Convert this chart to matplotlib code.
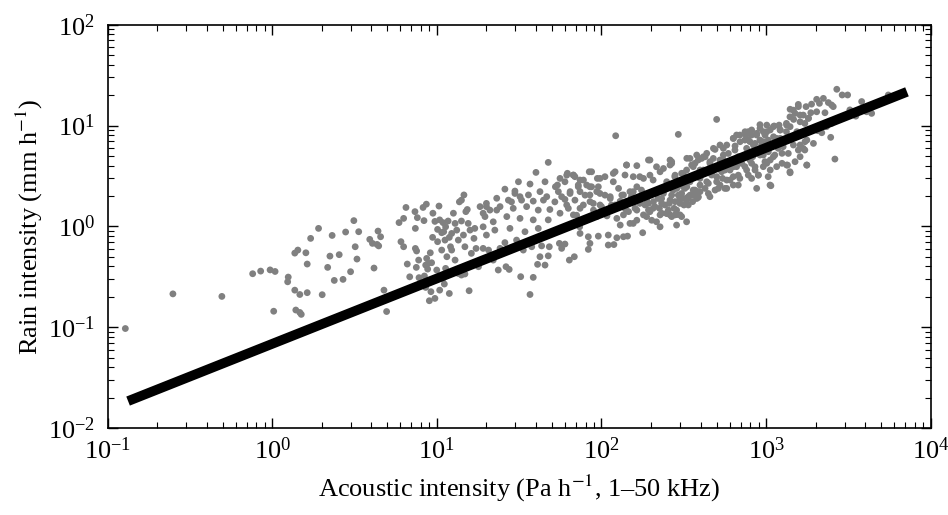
import numpy as np
import matplotlib
matplotlib.use("Agg")
import matplotlib.pyplot as plt

plt.rcParams["font.family"] = ["Liberation Serif", "DejaVu Serif"]
plt.rcParams["mathtext.fontset"] = "stix"

# acoustic intensity (Pa h^-1) and rain intensity (mm h^-1)
# sparse low end
acoustic_low = [0.128, 0.249, 0.494, 0.76, 0.85, 0.97, 1.04, 1.02, 1.25, 1.24, 1.37, 1.39,
                1.37, 1.43, 1.47, 1.50, 1.47]
rain_low = [0.097, 0.214, 0.202, 0.339, 0.36, 0.37, 0.357, 0.144, 0.314, 0.282, 0.233, 0.148,
            0.543, 0.582, 0.14, 0.134, 0.211]

# 1.5 - 18
acoustic_mid = [1.60, 1.63, 1.71, 1.91, 1.63, 2.01, 2.17, 2.24, 2.31, 2.38, 2.69, 2.55,
                2.79, 2.99, 3.13, 3.19, 3.27, 3.35, 3.91, 4.06, 4.15, 4.33, 4.43, 4.39,
                4.55, 4.77, 4.95, 5.89, 6.05, 6.28, 6.28, 6.49, 6.61, 6.84, 7.36, 7.40,
                7.40, 7.53, 7.50, 7.61, 7.79, 7.75, 8.35, 8.24, 8.63, 8.55, 8.40, 8.67,
                8.79, 8.87, 9.12, 9.29, 9.16, 8.55, 9.00, 9.20, 9.73, 9.42, 9.46, 9.73,
                10.1, 10.3, 10.1, 10.4, 10.7, 10.9, 11.0, 11.2, 11.3, 11.3, 11.7, 11.9,
                12.1, 12.3, 12.6, 12.9, 13.2, 13.5, 13.7, 14.1, 14.6, 14.1, 15.0, 15.3,
                14.5, 14.8, 15.5, 15.9, 16.2, 16.8, 17.0, 17.3, 17.9, 11.9, 11.1, 10.4,
                15.7, 14.1, 14.8, 13.5, 11.5, 12.3, 12.9, 10.7, 9.98, 10.9]
rain_mid = [0.547, 0.423, 0.76, 0.955, 0.22, 0.21, 0.392, 0.507, 0.813, 0.291, 0.298, 0.524,
            0.879, 0.355, 1.14, 0.628, 0.474, 0.885, 0.743, 0.678, 0.386, 0.662, 0.64, 0.898,
            0.789, 0.233, 0.143, 1.09, 0.705, 1.20, 0.628, 1.54, 0.423, 0.316, 1.40, 0.955,
            0.604, 0.57, 0.392, 1.22, 0.31, 0.463, 1.14, 1.54, 1.66, 0.413, 0.322, 0.481,
            0.377, 0.43, 0.547, 0.436, 0.282, 0.248, 0.183, 0.225, 0.193, 0.778, 1.35, 1.12,
            0.933, 1.59, 0.705, 1.16, 0.865, 1.09, 0.885, 0.731, 0.383, 0.99, 1.13, 0.778,
            0.628, 0.851, 1.35, 1.07, 0.918, 0.731, 1.75, 1.82, 2.05, 1.13, 1.40, 1.47,
            0.82, 0.628, 1.07, 0.918, 0.54, 0.76, 0.955, 0.604, 0.398, 0.216, 0.268, 0.233,
            0.23, 0.329, 0.337, 0.341, 0.50, 0.582, 0.463, 0.582, 0.369, 0.305]

# 18 - 400
acoustic_core = [122, 293, 47.5, 40.0, 31.3, 25.9, 29.8, 36.8, 32.3, 38.5, 23.6, 26.3,
                 27.5, 18.3, 22.0, 19.1, 20.6, 42.3, 40.9, 45.4, 47.5, 48.2, 43.3, 63.8,
                 68.4, 57.3, 60.0, 83.2, 85.1, 83.2, 95.7, 110, 110, 119, 124, 136,
                 144, 178, 227, 74.1, 73.7, 64.4, 55.5, 54.0, 49.8, 37.7, 33.5, 30.5,
                 25.9, 24.2, 20.0, 19.1, 22.5, 27.8, 34.3, 41.3, 47.5, 38.5, 32.0, 26.6,
                 22.0, 19.6, 20.0, 23.1, 29.1, 35.1, 41.3, 48.6, 56.0, 62.9, 70.6, 81.3,
                 93.5, 108, 124, 130, 156, 188, 216, 164, 142, 206, 249, 286,
                 329, 361, 300, 261, 232, 193, 171, 149, 130, 115, 100, 89.2,
                 77.6, 69.0, 60.0, 52.1, 44.4, 38.5, 32.7, 28.4, 24.2, 21.0, 19.1, 29.8,
                 36.0, 42.3, 46.5, 54.7, 64.4, 74.1, 85.1, 97.9, 113, 136, 156, 180,
                 206, 238, 273, 314, 345, 387, 370, 345, 314, 279, 249, 267,
                 261, 197, 227, 206, 180, 156, 164, 142, 139, 121, 118, 105,
                 94.4, 95.7, 84.3, 74.1, 67.5, 62.1, 56.0, 54.0, 52.5, 45.4, 36.8, 32.0,
                 27.2, 23.1, 20.0, 18.3, 72.3, 85.1, 232, 307, 286, 329, 267]
rain_core = [7.92, 8.17, 4.31, 3.43, 2.77, 2.34, 2.24, 0.211, 0.317, 0.312, 0.369, 0.398,
             0.374, 0.445, 0.463, 0.605, 0.582, 0.50, 0.42, 0.413, 0.51, 0.628, 0.64, 0.463,
             0.50, 0.605, 0.668, 0.591, 0.678, 0.789, 0.80, 0.653, 0.82, 0.66, 0.771, 0.789,
             0.80, 0.865, 0.99, 0.851, 0.99, 1.03, 0.678, 0.918, 0.851, 0.628, 0.582, 0.731,
             0.69, 0.605, 0.82, 0.99, 0.918, 0.955, 0.885, 0.955, 1.16, 1.16, 1.20, 1.25,
             1.11, 1.25, 1.57, 1.45, 1.51, 1.57, 1.45, 1.47, 1.35, 1.51, 1.29, 1.16,
             1.25, 1.27, 1.20, 1.03, 1.07, 1.25, 1.11, 1.45, 1.43, 1.51, 1.35, 1.45,
             1.90, 2.12, 1.69, 1.82, 1.69, 1.69, 1.82, 1.75, 1.77, 1.63, 1.57, 1.69,
             1.63, 1.82, 1.85, 1.75, 1.82, 1.78, 1.82, 1.75, 1.57, 1.45, 1.35, 2.12,
             2.05, 2.21, 1.97, 2.21, 2.12, 2.21, 2.05, 2.12, 1.97, 2.05, 2.21, 2.12,
             2.21, 2.12, 2.29, 2.47, 2.77, 3.11, 4.22, 4.72, 3.36, 3.11, 2.77, 4.38,
             4.06, 4.55, 3.48, 2.88, 2.99, 3.11, 2.47, 4.06, 3.23, 3.48, 2.77, 3.11,
             2.99, 2.47, 3.48, 2.88, 3.23, 3.36, 2.99, 2.57, 2.47, 2.77, 2.63, 1.97,
             1.82, 1.90, 1.69, 1.57, 2.57, 2.47, 1.35, 1.25, 1.03, 1.11, 1.25]

# dense band 55 - 1800
acoustic_band = [133, 142, 149, 160, 168, 175, 184, 190, 197, 207, 216, 225,
                 232, 240, 249, 258, 267, 276, 287, 297, 307, 317, 330, 345,
                 358, 370, 387, 180, 202, 227, 261, 287, 164, 149, 136, 121,
                 113, 127, 98, 105, 89.4, 85.2, 74.1, 67.5, 61.5, 57.3, 64.5, 72.3,
                 79.5, 93.6, 81.3, 60.0, 67.5, 77.7, 87.1,
                 61.5, 69.0, 87.1, 98, 118, 142, 164, 171, 193, 197, 216, 238,
                 261, 267, 280, 330, 353, 379, 416, 397, 456, 479, 501, 550,
                 577, 590, 633, 695, 647, 745, 780, 838, 919, 877, 962, 1010,
                 1107, 1217, 1334, 1397, 1466, 1571, 1683, 1808,
                 397, 436, 467, 501, 525, 563, 604, 633, 678, 712, 762, 798,
                 857, 898, 919, 985, 1033, 1107, 1186, 1274, 1365, 1466, 1571, 1723,
                 1334, 1397, 1767, 1057, 490, 577, 337, 379, 300, 280,
                 139, 152, 171, 188, 211, 221, 243, 255, 280, 293, 314, 337,
                 362, 397, 426, 446, 160, 193, 146, 130,
                 525, 662, 762, 817, 1010, 1159]
rain_band = [2.04, 1.76, 2.21, 1.51, 1.89, 2.29, 1.63, 2.04, 1.40, 1.76, 2.12, 1.51,
             1.89, 2.29, 1.34, 1.69, 2.04, 1.51, 2.38, 1.82, 2.12, 1.63, 2.47, 2.04,
             1.76, 2.29, 1.97, 1.30, 1.15, 1.30, 1.30, 1.31, 1.15, 1.07, 1.30, 1.63,
             1.89, 2.38, 1.63, 2.04, 1.45, 1.76, 1.51, 1.30, 1.63, 1.97, 2.21, 2.47,
             2.04, 2.21, 2.57, 2.77, 3.22, 2.88, 2.47,
             3.22, 3.11, 3.48, 2.99, 3.35, 4.06, 4.00, 3.11, 4.55, 3.22, 3.90, 3.75,
             4.55, 4.21, 3.22, 4.73, 4.06, 5.10, 4.90, 3.62, 4.38, 5.94, 3.90, 4.55,
             6.41, 5.29, 7.46, 6.91, 5.71, 8.68, 7.19, 6.41, 9.37, 8.05, 6.91, 8.68,
             9.74, 9.03, 10.1, 12.2, 14.2, 15.4, 12.7, 11.8,
             2.99, 2.77, 3.35, 3.11, 2.57, 3.62, 2.88, 3.90, 3.22, 4.21, 3.62, 4.55,
             3.90, 3.22, 5.10, 4.38, 5.50, 4.90, 5.94, 6.91, 5.29, 6.41, 5.71, 6.91,
             4.06, 3.48, 4.06, 2.57, 2.29, 2.38, 1.89, 1.89, 1.30, 1.30,
             1.51, 1.97, 1.69, 1.82, 1.57, 1.89, 1.63, 1.45, 1.76, 2.04, 1.89, 1.63,
             2.04, 2.21, 2.38, 2.12, 1.76, 1.45, 1.40, 1.76,
             6.41, 8.05, 5.94, 8.05, 6.41, 7.46]

# 300 - 5500
acoustic_high = [2690, 2900, 3130, 2030, 2230, 1890, 2110, 2390, 2500, 2560, 1570, 1750,
                 1400, 1500, 1610, 1870, 2030, 2280, 1810, 1610, 1470, 1330, 1200, 1120,
                 1010, 918, 817, 780, 877, 962, 1060, 1220, 1400, 1540, 1720, 1920,
                 2060, 2180, 2330, 2470, 2500, 3810, 4380, 4280, 5530, 3510, 3230, 4080,
                 501, 406, 426, 478, 490, 550, 632, 648, 693, 744, 755, 798,
                 857, 918, 985, 1030, 1110, 1220, 1330, 1370, 1500, 1610, 1680, 1770,
                 1720, 1610, 1500, 1350, 1400, 1770, 2620, 1940, 1250, 1130, 1060, 962,
                 897, 817, 744, 678, 618, 577, 525, 456, 387, 361, 329, 307,
                 345, 321, 378, 416, 478, 537, 604, 662, 744, 817, 857, 897,
                 780, 693, 632, 577, 501, 446, 397, 361, 314, 337, 329, 387,
                 513, 562, 632, 678, 817, 962, 1060, 1070, 1030, 1010, 1160, 1250,
                 1080, 1010, 1160, 1270, 940, 830, 550, 436, 467, 456, 387, 544, 877]
rain_high = [22.9, 20.1, 20.1, 18.2, 18.6, 16.3, 16.6, 16.9, 16.0, 15.4, 16.2, 15.4,
             14.5, 13.2, 12.7, 13.4, 13.7, 13.4, 11.8, 10.9, 11.5, 10.5, 10.1, 9.9,
             10.1, 10.2, 9.04, 8.69, 8.37, 8.69, 9.04, 9.04, 9.75, 8.69, 10.5, 9.38,
             8.9, 8.49, 9.75, 7.64, 10.5, 17.3, 13.2, 14.3, 20.1, 12.4, 14.3, 13.7,
             11.5, 4.72, 4.9, 4.72, 5.8, 5.94, 7.46, 6.27, 8.05, 7.18, 8.05, 6.92,
             6.65, 7.18, 8.05, 7.18, 7.74, 7.46, 8.69, 7.18, 7.74, 6.41, 5.94, 7.18,
             5.72, 4.91, 4.38, 4.05, 3.40, 4.05, 4.65, 6.65, 5.30, 5.10, 4.55, 5.10,
             5.72, 5.5, 5.10, 4.91, 4.55, 4.22, 4.55, 4.22, 4.55, 3.91, 3.62, 3.36,
             2.88, 2.38, 3.23, 3.62, 3.76, 3.48, 3.62, 3.91, 3.91, 4.22, 3.62, 3.23,
             3.23, 2.99, 3.11, 2.88, 2.77, 2.67, 2.57, 2.29, 2.57, 1.97, 1.69, 1.94,
             2.38, 2.38, 2.57, 2.57, 2.99, 3.91, 3.62, 2.53, 3.11, 4.22, 3.91, 4.22,
             6.17, 5.72, 6.41, 6.17, 6.41, 4.91, 5.10, 5.30, 3.23, 1.97, 2.21, 2.99, 2.38]

# power-law fit end points
fit_acoustic = [0.133, 7180]
fit_rain = [0.0185, 21.6]

acoustic = acoustic_low + acoustic_mid + acoustic_core + acoustic_band + acoustic_high
rain = rain_low + rain_mid + rain_core + rain_band + rain_high

fig = plt.figure(figsize=(9.48, 5.15), dpi=100)
ax = fig.add_axes([0.1136, 0.1689, 0.8681, 0.7831])

ax.scatter(acoustic, rain, s=24, color="#808080", edgecolors="none", zorder=2)
ax.plot(fit_acoustic, fit_rain, color="black", linewidth=7, solid_capstyle="butt", zorder=3)

ax.set_xscale("log")
ax.set_yscale("log")
ax.set_xlim(0.1, 1e4)
ax.set_ylim(1e-2, 1e2)

ax.tick_params(which="both", direction="in", top=True, right=True, labelsize=19)
ax.tick_params(which="major", length=7, width=1)
ax.tick_params(which="minor", length=4, width=0.8)
ax.tick_params(axis="x", pad=7)
ax.tick_params(axis="y", pad=9)
for sp in ax.spines.values():
    sp.set_linewidth(1.2)

ax.set_xlabel("Acoustic intensity (Pa h$^{-1}$, 1\u201350 kHz)", fontsize=19, labelpad=6)
ax.set_ylabel("Rain intensity (mm h$^{-1}$)", fontsize=19, labelpad=2)

fig.savefig("out.png", dpi=100)
